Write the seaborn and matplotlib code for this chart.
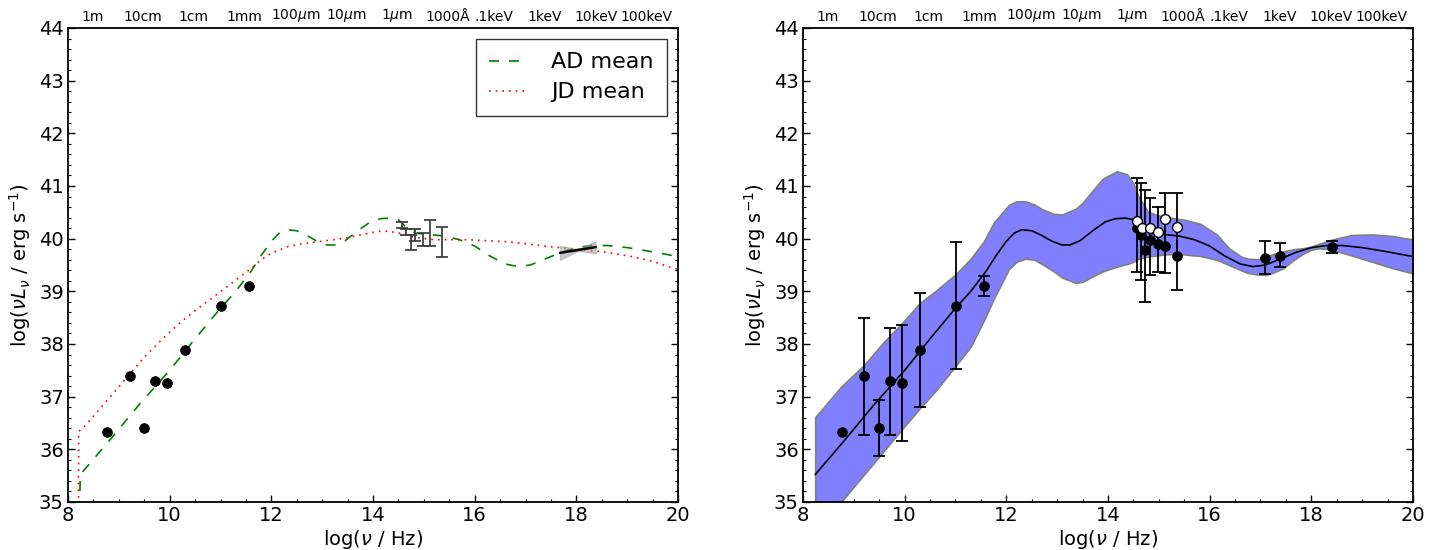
import numpy as np
import matplotlib
matplotlib.use("Agg")
import matplotlib.pyplot as plt
import seaborn as sns
from matplotlib.ticker import MultipleLocator, FixedLocator

# ---------------- data ----------------
# radio / mm photometry (log nu, log nuLnu)
PT_X = [8.76, 9.21, 9.50, 9.71, 9.95, 10.30, 11.01, 11.56]
PT_Y = [36.33, 37.39, 36.41, 37.29, 37.25, 37.89, 38.73, 39.11]
PT_LO = [36.33, 36.28, 35.88, 36.27, 36.16, 36.81, 37.52, 38.92]
PT_HI = [36.33, 38.49, 36.94, 38.30, 38.36, 38.97, 39.94, 39.30]

# optical cluster, filled points
OF_X = [14.58, 14.65, 14.73, 14.83, 14.98, 15.12, 15.36]
OF_Y = [40.21, 40.07, 39.78, 39.97, 39.89, 39.87, 39.68]
OF_LO = [39.36, 39.21, 38.80, 39.31, 39.36, 39.34, 39.03]
OF_HI = [41.16, 41.05, 40.92, 40.77, 40.61, 40.86, 40.86]
# optical cluster, open points
OO_X = [14.58, 14.66, 14.83, 14.98, 15.12, 15.36]
OO_Y = [40.34, 40.20, 40.20, 40.13, 40.37, 40.23]

# X-ray points
XR_X = [17.08, 17.38, 18.40]
XR_Y = [39.63, 39.68, 39.84]
XR_LO = [39.33, 39.47, 39.73]
XR_HI = [39.95, 39.91, 39.95]

# optical ranges shown in the left panel
OPT_X = [14.57, 14.65, 14.74, 14.83, 14.99, 15.12, 15.35]
OPT_HI = [40.32, 40.18, 40.07, 40.18, 40.11, 40.35, 40.23]
OPT_LO = [40.20, 40.07, 39.78, 39.96, 39.86, 39.86, 39.66]

# X-ray power law bow-tie
BOW_X = [17.68, 18.03, 18.38]
BOW_Y = [39.73, 39.785, 39.84]
BOW_UP = [39.86, 39.80, 39.95]
BOW_LO = [39.60, 39.77, 39.72]

# AD mean template
AD_X = [8.20, 8.24, 8.80, 9.40, 10.00, 10.50, 11.00, 11.30, 11.60, 11.80, 12.00,
        12.15, 12.30, 12.50, 12.70, 12.90, 13.10, 13.25, 13.45, 13.70, 13.95,
        14.15, 14.35, 14.50, 14.65, 14.85, 15.10, 15.40, 15.70, 16.00, 16.30,
        16.60, 16.85, 17.10, 17.40, 17.70, 18.00, 18.30, 18.60, 19.00, 19.50, 20.00]
AD_Y = [33.00, 35.52, 36.15, 36.85, 37.50, 38.10, 38.68, 39.00, 39.38, 39.68, 39.95,
        40.10, 40.17, 40.15, 40.06, 39.95, 39.88, 39.88, 39.96, 40.15, 40.32,
        40.38, 40.39, 40.36, 40.22, 40.10, 40.08, 40.05, 39.98, 39.86, 39.67,
        39.52, 39.47, 39.50, 39.62, 39.74, 39.83, 39.87, 39.87, 39.83, 39.75, 39.66]

# JD mean template
JD_X = [8.20, 8.21, 8.31, 8.70, 9.20, 9.50, 9.84, 10.20, 10.48, 10.80, 11.05,
        11.35, 11.61, 11.80, 12.01, 12.33, 12.60, 12.98, 13.46, 13.80, 14.10,
        14.30, 14.50, 14.74, 15.00, 15.22, 15.87, 16.67, 17.47, 18.12, 18.60,
        19.09, 19.50, 20.00]
JD_Y = [33.00, 36.34, 36.42, 36.85, 37.41, 37.75, 38.08, 38.40, 38.62, 38.85, 39.03,
        39.25, 39.44, 39.60, 39.73, 39.85, 39.90, 39.95, 40.01, 40.08, 40.14,
        40.14, 40.11, 40.04, 40.00, 39.98, 39.98, 39.94, 39.85, 39.79, 39.74,
        39.66, 39.57, 39.41]

# fitted band (right panel)
BAND_X = [8.24, 8.75, 9.20, 9.60, 10.00, 10.30, 10.60, 11.00, 11.30, 11.56, 11.75,
          12.05, 12.20, 12.37, 12.55, 12.70, 12.93, 13.10, 13.37, 13.50, 13.73,
          13.90, 14.18, 14.38, 14.50, 14.60, 14.78, 14.95, 15.10, 15.35, 15.50,
          15.82, 16.14, 16.38, 16.62, 16.75, 16.94, 17.10, 17.26, 17.45, 17.66,
          17.85, 18.00, 18.15, 18.40, 18.80, 19.20, 19.60, 20.00]
BAND_UP = [36.61, 37.19, 37.60, 38.05, 38.45, 38.78, 39.00, 39.32, 39.62, 39.95, 40.30,
           40.64, 40.71, 40.71, 40.65, 40.56, 40.47, 40.46, 40.57, 40.68, 40.95,
           41.14, 41.28, 41.22, 41.05, 40.80, 40.52, 40.45, 40.42, 40.38, 40.36,
           40.28, 40.08, 39.82, 39.66, 39.62, 39.61, 39.65, 39.71, 39.76, 39.80,
           39.82, 39.85, 39.90, 39.98, 40.07, 40.08, 40.05, 39.98]
BAND_LO = [34.43, 35.00, 35.52, 35.98, 36.44, 36.78, 37.10, 37.58, 37.95, 38.45, 38.85,
           39.42, 39.56, 39.62, 39.60, 39.52, 39.38, 39.26, 39.16, 39.18, 39.30,
           39.38, 39.47, 39.52, 39.56, 39.62, 39.66, 39.68, 39.70, 39.71, 39.70,
           39.67, 39.60, 39.50, 39.40, 39.35, 39.32, 39.31, 39.36, 39.44, 39.60,
           39.72, 39.79, 39.82, 39.79, 39.68, 39.56, 39.44, 39.34]

# top axis wavelength / energy labels
TOP_POS = [8.477, 9.477, 10.477, 11.477, 12.477, 13.477, 14.477, 15.477,
           16.383, 17.383, 18.383, 19.383]
TOP_LAB = ["1m", "10cm", "1cm", "1mm", r"100$\mu$m", r"10$\mu$m", r"1$\mu$m",
           "1000Å", ".1keV", "1keV", "10keV", "100keV"]

# ---------------- style ----------------
sns.set_style("ticks")
plt.rcParams["font.family"] = ["DejaVu Sans"]
plt.rcParams["mathtext.fontset"] = "dejavusans"
plt.rcParams["axes.linewidth"] = 1.3
plt.rcParams["text.color"] = "black"
plt.rcParams["axes.labelcolor"] = "black"
plt.rcParams["xtick.color"] = "black"
plt.rcParams["ytick.color"] = "black"

fig = plt.figure(figsize=(14.38, 5.5), dpi=100)
axL = fig.add_axes([0.0473, 0.0873, 0.4242, 0.8618])
axR = fig.add_axes([0.5584, 0.0873, 0.4242, 0.8618])


def style_axes(ax):
    ax.set_xlim(8, 20)
    ax.set_ylim(35, 44)
    ax.xaxis.set_major_locator(MultipleLocator(2))
    ax.xaxis.set_minor_locator(MultipleLocator(0.5))
    ax.yaxis.set_major_locator(MultipleLocator(1))
    ax.yaxis.set_minor_locator(MultipleLocator(0.2))
    ax.tick_params(which="both", direction="in", top=True, right=True,
                   labelsize=14, pad=3, colors="black")
    ax.tick_params(which="major", length=5, width=1)
    ax.tick_params(which="minor", length=2.5, width=0.8)
    for s in ax.spines.values():
        s.set_visible(True)
        s.set_color("black")
    ax.set_xlabel(r"log($\nu$ / Hz)", fontsize=14, labelpad=2, color="black")
    ax.set_ylabel(r"log($\nu L_\nu$ / erg s$^{-1}$)", fontsize=14, labelpad=4,
                  color="black")
    tw = ax.twiny()
    tw.set_xlim(8, 20)
    tw.xaxis.set_major_locator(FixedLocator(TOP_POS))
    tw.set_xticklabels(TOP_LAB)
    tw.tick_params(axis="x", which="major", direction="in", length=0, labelsize=10,
                   pad=3, colors="black")
    tw.tick_params(axis="x", which="minor", length=0)
    for s in tw.spines.values():
        s.set_visible(False)
    return tw


style_axes(axL)
style_axes(axR)

# ---------------- left panel ----------------
sns.lineplot(x=AD_X, y=AD_Y, ax=axL, color="green", linewidth=1.2, sort=False,
             estimator=None, label="AD mean", linestyle=(0, (6, 6)))
sns.lineplot(x=JD_X, y=JD_Y, ax=axL, color="red", linewidth=1.2, sort=False,
             estimator=None, label="JD mean", linestyle=(0, (1, 3)))
sns.scatterplot(x=PT_X, y=PT_Y, ax=axL, color="black", s=50, edgecolor="black",
                linewidth=0.5, zorder=5)
opt_mid = [(h + l) / 2 for h, l in zip(OPT_HI, OPT_LO)]
opt_err = [(h - l) / 2 for h, l in zip(OPT_HI, OPT_LO)]
axL.errorbar(OPT_X, opt_mid, yerr=opt_err, fmt="none", ecolor="0.25",
             elinewidth=1.3, capsize=4, capthick=1.3, zorder=4)
axL.fill_between(BOW_X, BOW_LO, BOW_UP, color="0.6", alpha=0.5, linewidth=1,
                 edgecolor="0.6", zorder=3)
sns.lineplot(x=BOW_X, y=BOW_Y, ax=axL, color="black", linewidth=1.8, sort=False,
             estimator=None, zorder=4)
leg = axL.legend(loc="upper right", fontsize=16, frameon=True, fancybox=False,
                 handlelength=1.6, borderpad=0.6, labelspacing=0.45, handletextpad=1.2,
                 borderaxespad=0.5, labelcolor="black")
leg.get_frame().set_edgecolor("black")
leg.get_frame().set_linewidth(1.0)

# ---------------- right panel ----------------
axR.fill_between(BAND_X, BAND_LO, BAND_UP, color="#8080ff", edgecolor="0.5",
                 linewidth=1.2, zorder=1)
sns.lineplot(x=AD_X[1:], y=AD_Y[1:], ax=axR, color="black", linewidth=1.2, sort=False,
             estimator=None, zorder=3)

all_x = PT_X[1:] + OF_X + XR_X
all_y = PT_Y[1:] + OF_Y + XR_Y
all_lo = PT_LO[1:] + OF_LO + XR_LO
all_hi = PT_HI[1:] + OF_HI + XR_HI
yerr = [[y - l for y, l in zip(all_y, all_lo)], [h - y for y, h in zip(all_y, all_hi)]]
axR.errorbar(all_x, all_y, yerr=yerr, fmt="none", ecolor="black", elinewidth=1.3,
             capsize=4, capthick=1.3, zorder=4)
sns.scatterplot(x=PT_X + OF_X + XR_X, y=PT_Y + OF_Y + XR_Y, ax=axR, color="black",
                s=50, edgecolor="black", linewidth=0.5, zorder=5)
sns.scatterplot(x=OO_X, y=OO_Y, ax=axR, color="white", s=50, edgecolor="black",
                linewidth=1.0, zorder=6)

fig.savefig("out.png", dpi=100)
